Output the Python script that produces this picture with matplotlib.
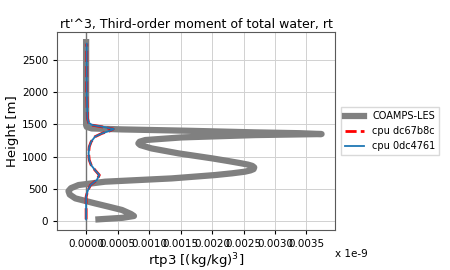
import matplotlib
matplotlib.use("Agg")
import matplotlib.pyplot as plt
from matplotlib.ticker import FormatStrFormatter

# COAMPS-LES profile (height [m], rtp3)
les_z = [26, 50, 78, 110, 171, 222, 274, 351, 410, 465, 510, 558, 610, 661,
         713, 740, 765, 785, 805, 832, 855, 875, 894, 930, 972, 1049, 1126,
         1178, 1204, 1230, 1256, 1297, 1333, 1349, 1362, 1375, 1400, 1421,
         1436, 1460, 1488, 1600, 2000, 2775]
les_rtp3 = [0.000196, 0.00058, 0.00076, 0.00071, 0.00057, 0.00036, 0.00014,
            -0.00017, -0.00026, -0.00028, -0.00024, -0.00012, 0.00030,
            0.00136, 0.00205, 0.00232, 0.00252, 0.00261, 0.00266, 0.00267,
            0.00264, 0.00257, 0.00247, 0.00226, 0.00200, 0.00147, 0.00104,
            0.00086, 0.00083, 0.00085, 0.00094, 0.00152, 0.00268, 0.00374,
            0.00340, 0.00268, 0.00162, 0.00057, 0.00009, 0.00001, 0.00000,
            0.00000, 0.00000, 0.00000]

# cpu dc67b8c
red_z = [26, 377, 481, 558, 636, 713, 791, 868, 946, 1049, 1152, 1230, 1307,
         1359, 1400, 1426, 1462, 1488, 1524, 1600, 2000, 2750]
red_rtp3 = [0.0, 0.0, 0.00003, 0.00007, 0.00017, 0.00021, 0.00014, 0.00008,
            0.00005, 0.00004, 0.00005, 0.00008, 0.00014, 0.00025, 0.00038,
            0.00043, 0.00025, 0.00009, 0.00004, 0.00002, 0.00001, 0.00001]

# cpu 0dc4761
blue_z = [26, 377, 481, 558, 636, 713, 791, 868, 946, 1049, 1152, 1230, 1307,
          1359, 1400, 1426, 1462, 1488, 1524, 1600, 2000, 2750]
blue_rtp3 = [0.0, 0.0, 0.00003, 0.00007, 0.00017, 0.00021, 0.00014, 0.00008,
             0.00005, 0.00004, 0.00005, 0.00008, 0.00014, 0.00025, 0.00038,
             0.00044, 0.00026, 0.00010, 0.00004, 0.00002, 0.00001, 0.00001]

fig = plt.figure(figsize=(4.5, 2.7), dpi=100)
ax = fig.add_axes([0.127, 0.148, 0.617, 0.733])

ax.plot(les_rtp3, les_z, color='gray', lw=4.5, label='COAMPS-LES', zorder=3)
ax.plot(red_rtp3, red_z, color='red', lw=2, dashes=(4, 1.5), label='cpu dc67b8c', zorder=4)
ax.plot(blue_rtp3, blue_z, color='tab:blue', lw=1.3, label='cpu 0dc4761', zorder=5)
ax.axvline(0, color='0.45', lw=1, zorder=2)

ax.set_xlim(-0.00046, 0.00395)
ax.set_ylim(-140, 2930)
ax.set_xticks([0.0, 0.0005, 0.001, 0.0015, 0.002, 0.0025, 0.003, 0.0035])
ax.set_yticks([0, 500, 1000, 1500, 2000, 2500])
ax.xaxis.set_major_formatter(FormatStrFormatter('%.4f'))
ax.tick_params(labelsize=7.5, length=3)
ax.grid(True, color='0.82', lw=0.7)
for s in ax.spines.values():
    s.set_color('0.35')

ax.set_title("rt'^3, Third-order moment of total water, rt", fontsize=9, pad=3)
ax.set_xlabel(r"rtp3 [(kg/kg)$^3$]", fontsize=9.5, labelpad=2)
ax.set_ylabel("Height [m]", fontsize=9.5, labelpad=2)
ax.legend(loc='center left', bbox_to_anchor=(1.005, 0.5), fontsize=7,
          handlelength=2, framealpha=1, edgecolor='0.85', fancybox=False)
fig.text(0.744, 0.06, "x 1e-9", fontsize=7.5, va='center')

fig.savefig("out.png", dpi=100)
